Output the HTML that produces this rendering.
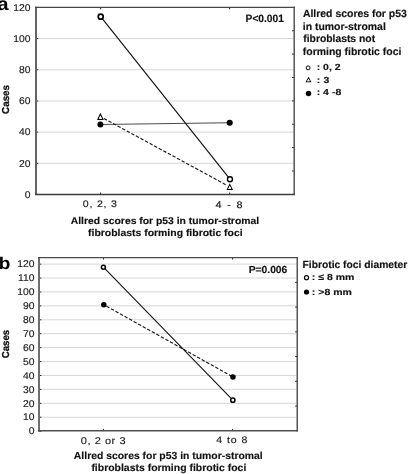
<!DOCTYPE html><html><head><meta charset="utf-8"><style>html,body{margin:0;padding:0;background:#fff;}svg{display:block;will-change:transform;}text{text-rendering:geometricPrecision;font-family:"Liberation Sans",sans-serif;}</style></head><body>
<svg width="408" height="474" viewBox="0 0 408 474">
<line x1="38.40" y1="163.32" x2="293.30" y2="163.32" stroke="#d6d6d6" stroke-width="1"/>
<line x1="38.40" y1="132.14" x2="293.30" y2="132.14" stroke="#d6d6d6" stroke-width="1"/>
<line x1="38.40" y1="100.96" x2="293.30" y2="100.96" stroke="#d6d6d6" stroke-width="1"/>
<line x1="38.40" y1="69.78" x2="293.30" y2="69.78" stroke="#d6d6d6" stroke-width="1"/>
<line x1="38.40" y1="38.60" x2="293.30" y2="38.60" stroke="#d6d6d6" stroke-width="1"/>
<line x1="36.00" y1="194.50" x2="38.30" y2="194.50" stroke="#222" stroke-width="1"/>
<line x1="36.00" y1="163.32" x2="38.30" y2="163.32" stroke="#222" stroke-width="1"/>
<line x1="36.00" y1="132.14" x2="38.30" y2="132.14" stroke="#222" stroke-width="1"/>
<line x1="36.00" y1="100.96" x2="38.30" y2="100.96" stroke="#222" stroke-width="1"/>
<line x1="36.00" y1="69.78" x2="38.30" y2="69.78" stroke="#222" stroke-width="1"/>
<line x1="36.00" y1="38.60" x2="38.30" y2="38.60" stroke="#222" stroke-width="1"/>
<line x1="36.00" y1="7.42" x2="38.30" y2="7.42" stroke="#222" stroke-width="1"/>
<line x1="294.20" y1="30.77" x2="292.10" y2="30.77" stroke="#222" stroke-width="1"/>
<line x1="294.20" y1="54.14" x2="292.10" y2="54.14" stroke="#222" stroke-width="1"/>
<line x1="294.20" y1="77.51" x2="292.10" y2="77.51" stroke="#222" stroke-width="1"/>
<line x1="294.20" y1="100.88" x2="292.10" y2="100.88" stroke="#222" stroke-width="1"/>
<line x1="294.20" y1="124.24" x2="292.10" y2="124.24" stroke="#222" stroke-width="1"/>
<line x1="294.20" y1="147.61" x2="292.10" y2="147.61" stroke="#222" stroke-width="1"/>
<line x1="294.20" y1="170.98" x2="292.10" y2="170.98" stroke="#222" stroke-width="1"/>
<line x1="100.60" y1="7.40" x2="100.60" y2="9.30" stroke="#222" stroke-width="1"/>
<line x1="100.60" y1="194.40" x2="100.60" y2="192.50" stroke="#222" stroke-width="1"/>
<line x1="229.60" y1="7.40" x2="229.60" y2="9.30" stroke="#222" stroke-width="1"/>
<line x1="229.60" y1="194.40" x2="229.60" y2="192.50" stroke="#222" stroke-width="1"/>
<line x1="36.00" y1="6.75" x2="36.00" y2="195.12" stroke="#646464" stroke-width="2.0"/>
<line x1="294.20" y1="6.75" x2="294.20" y2="195.12" stroke="#555" stroke-width="1.5"/>
<line x1="35.00" y1="7.40" x2="294.95" y2="7.40" stroke="#474747" stroke-width="1.3"/>
<line x1="35.00" y1="194.45" x2="294.95" y2="194.45" stroke="#3c3c3c" stroke-width="1.35"/>
<text transform="translate(30.55,197.80) scale(1.05,1)" font-size="9.85" text-anchor="end" fill="#1a1a1a" stroke="#1a1a1a" stroke-width="0.15">0</text>
<text transform="translate(30.55,166.62) scale(1.05,1)" font-size="9.85" text-anchor="end" fill="#1a1a1a" stroke="#1a1a1a" stroke-width="0.15">20</text>
<text transform="translate(30.55,135.44) scale(1.05,1)" font-size="9.85" text-anchor="end" fill="#1a1a1a" stroke="#1a1a1a" stroke-width="0.15">40</text>
<text transform="translate(30.55,104.26) scale(1.05,1)" font-size="9.85" text-anchor="end" fill="#1a1a1a" stroke="#1a1a1a" stroke-width="0.15">60</text>
<text transform="translate(30.55,73.08) scale(1.05,1)" font-size="9.85" text-anchor="end" fill="#1a1a1a" stroke="#1a1a1a" stroke-width="0.15">80</text>
<text transform="translate(30.55,41.90) scale(1.05,1)" font-size="9.85" text-anchor="end" fill="#1a1a1a" stroke="#1a1a1a" stroke-width="0.15">100</text>
<text transform="translate(30.55,10.72) scale(1.05,1)" font-size="9.85" text-anchor="end" fill="#1a1a1a" stroke="#1a1a1a" stroke-width="0.15">120</text>
<line x1="100.4" y1="124.45" x2="229.7" y2="122.7" stroke="#4a4a4a" stroke-width="1.1"/>
<line x1="103.9" y1="118.5" x2="226.2" y2="184.9" stroke="#1a1a1a" stroke-width="1.15" stroke-dasharray="3.4 1.8"/>
<line x1="100.7" y1="16.7" x2="229.95" y2="179.2" stroke="#111" stroke-width="1.15"/>
<circle cx="100.70" cy="16.70" r="2.50" fill="#fff" stroke="#000" stroke-width="1.7"/>
<circle cx="229.95" cy="179.20" r="2.50" fill="#fff" stroke="#000" stroke-width="1.35"/>
<path d="M100.40 112.70 L103.80 120.00 L97.00 120.00 Z M100.40 115.54 L98.88 118.80 L101.92 118.80 Z" fill="#000" fill-rule="evenodd"/>
<path d="M100.40 115.54 L98.88 118.80 L101.92 118.80 Z" fill="#fff"/>
<path d="M229.75 183.30 L233.00 190.00 L226.50 190.00 Z M229.75 185.82 L228.26 188.90 L231.24 188.90 Z" fill="#000" fill-rule="evenodd"/>
<path d="M229.75 185.82 L228.26 188.90 L231.24 188.90 Z" fill="#fff"/>
<circle cx="100.40" cy="124.45" r="2.95" fill="#000"/>
<circle cx="229.70" cy="122.70" r="3.05" fill="#000"/>
<circle cx="308.10" cy="67.90" r="1.95" fill="#fff" stroke="#000" stroke-width="1.0"/>
<path d="M308.50 76.80 L311.50 82.20 L305.50 82.20 Z M308.50 78.86 L307.20 81.20 L309.80 81.20 Z" fill="#000" fill-rule="evenodd"/>
<path d="M308.50 78.86 L307.20 81.20 L309.80 81.20 Z" fill="#fff"/>
<circle cx="308.50" cy="93.50" r="2.75" fill="#000"/>
<line x1="41.50" y1="417.23" x2="296.35" y2="417.23" stroke="#d6d6d6" stroke-width="1"/>
<line x1="41.50" y1="403.31" x2="296.35" y2="403.31" stroke="#d6d6d6" stroke-width="1"/>
<line x1="41.50" y1="389.39" x2="296.35" y2="389.39" stroke="#d6d6d6" stroke-width="1"/>
<line x1="41.50" y1="375.47" x2="296.35" y2="375.47" stroke="#d6d6d6" stroke-width="1"/>
<line x1="41.50" y1="361.55" x2="296.35" y2="361.55" stroke="#d6d6d6" stroke-width="1"/>
<line x1="41.50" y1="347.63" x2="296.35" y2="347.63" stroke="#d6d6d6" stroke-width="1"/>
<line x1="41.50" y1="333.71" x2="296.35" y2="333.71" stroke="#d6d6d6" stroke-width="1"/>
<line x1="41.50" y1="319.79" x2="296.35" y2="319.79" stroke="#d6d6d6" stroke-width="1"/>
<line x1="41.50" y1="305.87" x2="296.35" y2="305.87" stroke="#d6d6d6" stroke-width="1"/>
<line x1="41.50" y1="291.95" x2="296.35" y2="291.95" stroke="#d6d6d6" stroke-width="1"/>
<line x1="41.50" y1="278.03" x2="296.35" y2="278.03" stroke="#d6d6d6" stroke-width="1"/>
<line x1="41.50" y1="264.11" x2="296.35" y2="264.11" stroke="#d6d6d6" stroke-width="1"/>
<line x1="39.10" y1="431.15" x2="41.40" y2="431.15" stroke="#222" stroke-width="1"/>
<line x1="39.10" y1="417.23" x2="41.40" y2="417.23" stroke="#222" stroke-width="1"/>
<line x1="39.10" y1="403.31" x2="41.40" y2="403.31" stroke="#222" stroke-width="1"/>
<line x1="39.10" y1="389.39" x2="41.40" y2="389.39" stroke="#222" stroke-width="1"/>
<line x1="39.10" y1="375.47" x2="41.40" y2="375.47" stroke="#222" stroke-width="1"/>
<line x1="39.10" y1="361.55" x2="41.40" y2="361.55" stroke="#222" stroke-width="1"/>
<line x1="39.10" y1="347.63" x2="41.40" y2="347.63" stroke="#222" stroke-width="1"/>
<line x1="39.10" y1="333.71" x2="41.40" y2="333.71" stroke="#222" stroke-width="1"/>
<line x1="39.10" y1="319.79" x2="41.40" y2="319.79" stroke="#222" stroke-width="1"/>
<line x1="39.10" y1="305.87" x2="41.40" y2="305.87" stroke="#222" stroke-width="1"/>
<line x1="39.10" y1="291.95" x2="41.40" y2="291.95" stroke="#222" stroke-width="1"/>
<line x1="39.10" y1="278.03" x2="41.40" y2="278.03" stroke="#222" stroke-width="1"/>
<line x1="39.10" y1="264.11" x2="41.40" y2="264.11" stroke="#222" stroke-width="1"/>
<line x1="297.25" y1="282.34" x2="295.15" y2="282.34" stroke="#222" stroke-width="1"/>
<line x1="297.25" y1="307.09" x2="295.15" y2="307.09" stroke="#222" stroke-width="1"/>
<line x1="297.25" y1="331.83" x2="295.15" y2="331.83" stroke="#222" stroke-width="1"/>
<line x1="297.25" y1="356.57" x2="295.15" y2="356.57" stroke="#222" stroke-width="1"/>
<line x1="297.25" y1="381.31" x2="295.15" y2="381.31" stroke="#222" stroke-width="1"/>
<line x1="297.25" y1="406.06" x2="295.15" y2="406.06" stroke="#222" stroke-width="1"/>
<line x1="103.45" y1="257.60" x2="103.45" y2="259.50" stroke="#222" stroke-width="1"/>
<line x1="103.45" y1="430.80" x2="103.45" y2="428.90" stroke="#222" stroke-width="1"/>
<line x1="232.60" y1="257.60" x2="232.60" y2="259.50" stroke="#222" stroke-width="1"/>
<line x1="232.60" y1="430.80" x2="232.60" y2="428.90" stroke="#222" stroke-width="1"/>
<line x1="39.00" y1="256.93" x2="39.00" y2="431.60" stroke="#6e6e6e" stroke-width="2.0"/>
<line x1="297.25" y1="256.93" x2="297.25" y2="431.60" stroke="#555" stroke-width="1.5"/>
<line x1="38.00" y1="257.60" x2="298.00" y2="257.60" stroke="#4a4a4a" stroke-width="1.35"/>
<line x1="38.00" y1="430.80" x2="298.00" y2="430.80" stroke="#4e4e4e" stroke-width="1.6"/>
<text transform="translate(34.55,434.40) scale(1.05,1)" font-size="9.85" text-anchor="end" fill="#1a1a1a" stroke="#1a1a1a" stroke-width="0.15">0</text>
<text transform="translate(34.55,420.48) scale(1.05,1)" font-size="9.85" text-anchor="end" fill="#1a1a1a" stroke="#1a1a1a" stroke-width="0.15">10</text>
<text transform="translate(34.55,406.56) scale(1.05,1)" font-size="9.85" text-anchor="end" fill="#1a1a1a" stroke="#1a1a1a" stroke-width="0.15">20</text>
<text transform="translate(34.55,392.64) scale(1.05,1)" font-size="9.85" text-anchor="end" fill="#1a1a1a" stroke="#1a1a1a" stroke-width="0.15">30</text>
<text transform="translate(34.55,378.72) scale(1.05,1)" font-size="9.85" text-anchor="end" fill="#1a1a1a" stroke="#1a1a1a" stroke-width="0.15">40</text>
<text transform="translate(34.55,364.80) scale(1.05,1)" font-size="9.85" text-anchor="end" fill="#1a1a1a" stroke="#1a1a1a" stroke-width="0.15">50</text>
<text transform="translate(34.55,350.88) scale(1.05,1)" font-size="9.85" text-anchor="end" fill="#1a1a1a" stroke="#1a1a1a" stroke-width="0.15">60</text>
<text transform="translate(34.55,336.96) scale(1.05,1)" font-size="9.85" text-anchor="end" fill="#1a1a1a" stroke="#1a1a1a" stroke-width="0.15">70</text>
<text transform="translate(34.55,323.04) scale(1.05,1)" font-size="9.85" text-anchor="end" fill="#1a1a1a" stroke="#1a1a1a" stroke-width="0.15">80</text>
<text transform="translate(34.55,309.12) scale(1.05,1)" font-size="9.85" text-anchor="end" fill="#1a1a1a" stroke="#1a1a1a" stroke-width="0.15">90</text>
<text transform="translate(34.55,295.20) scale(1.05,1)" font-size="9.85" text-anchor="end" fill="#1a1a1a" stroke="#1a1a1a" stroke-width="0.15">100</text>
<text transform="translate(34.55,281.28) scale(1.05,1)" font-size="9.85" text-anchor="end" fill="#1a1a1a" stroke="#1a1a1a" stroke-width="0.15">110</text>
<text transform="translate(34.55,267.36) scale(1.05,1)" font-size="9.85" text-anchor="end" fill="#1a1a1a" stroke="#1a1a1a" stroke-width="0.15">120</text>
<line x1="103.8" y1="304.7" x2="232.95" y2="376.95" stroke="#1a1a1a" stroke-width="1.15" stroke-dasharray="3.4 1.8" stroke-dashoffset="-3"/>
<line x1="103.4" y1="267.15" x2="232.85" y2="400.15" stroke="#111" stroke-width="1.1"/>
<circle cx="103.40" cy="267.15" r="2.00" fill="#fff" stroke="#000" stroke-width="1.5"/>
<circle cx="232.85" cy="400.15" r="2.10" fill="#fff" stroke="#000" stroke-width="1.5"/>
<circle cx="103.80" cy="304.70" r="2.75" fill="#000"/>
<circle cx="232.95" cy="376.95" r="2.75" fill="#000"/>
<circle cx="306.50" cy="277.70" r="2.05" fill="#fff" stroke="#000" stroke-width="1.15"/>
<circle cx="306.50" cy="292.00" r="2.60" fill="#000"/>
<text transform="translate(302.89,17.30) scale(0.9960,1)" font-size="10.49" font-weight="bold" fill="#111" stroke="#111" stroke-width="0.15">Allred scores for p53</text>
<text transform="translate(302.74,29.90) scale(0.9976,1)" font-size="10.49" font-weight="bold" fill="#111" stroke="#111" stroke-width="0.15">in tumor-stromal</text>
<text transform="translate(303.24,42.30) scale(0.9867,1)" font-size="10.49" font-weight="bold" fill="#111" stroke="#111" stroke-width="0.15">fibroblasts not</text>
<text transform="translate(302.81,54.70) scale(0.9952,1)" font-size="10.49" font-weight="bold" fill="#111" stroke="#111" stroke-width="0.15">forming fibrotic foci</text>
<text transform="translate(316.64,70.40) scale(1.2000,1)" font-size="8.75" font-weight="bold" letter-spacing="0.011" fill="#111" stroke="#111" stroke-width="0.15">: 0, 2</text>
<text transform="translate(316.64,82.70) scale(1.2000,1)" font-size="8.75" font-weight="bold" letter-spacing="0.180" fill="#111" stroke="#111" stroke-width="0.15">: 3</text>
<text transform="translate(316.64,94.50) scale(1.2000,1)" font-size="8.75" font-weight="bold" letter-spacing="0.023" fill="#111" stroke="#111" stroke-width="0.15">: 4 -8</text>
<text transform="translate(245.59,21.50) scale(0.9548,1)" font-size="10.69" font-weight="bold" fill="#111" stroke="#111" stroke-width="0.15">P&lt;0.001</text>
<text transform="translate(70.74,223.50) scale(1.0597,1)" font-size="9.79" font-weight="bold" fill="#111" stroke="#111" stroke-width="0.15">Allred scores for p53 in tumor-stromal</text>
<text transform="translate(88.03,235.50) scale(1.0656,1)" font-size="9.79" font-weight="bold" fill="#111" stroke="#111" stroke-width="0.15">fibroblasts forming fibrotic foci</text>
<text transform="translate(82.72,207.30) scale(1.1200,1)" font-size="9.45" font-weight="normal" letter-spacing="0.724" fill="#1a1a1a" stroke="#1a1a1a" stroke-width="0.15">0, 2, 3</text>
<text transform="translate(215.38,207.50) scale(1.1200,1)" font-size="9.69" font-weight="normal" letter-spacing="1.211" fill="#1a1a1a" stroke="#1a1a1a" stroke-width="0.15">4 - 8</text>
<text transform="translate(-2.63,9.80) scale(1.1200,1)" font-size="18.16" font-weight="bold" fill="#000">a</text>
<text transform="translate(302.51,267.60) scale(0.9969,1)" font-size="10.34" font-weight="bold" fill="#111" stroke="#111" stroke-width="0.15">Fibrotic foci diameter</text>
<text transform="translate(311.83,280.20) scale(1.2000,1)" font-size="8.75" font-weight="bold" letter-spacing="0.012" fill="#111" stroke="#111" stroke-width="0.15">: ≤ 8 mm</text>
<text transform="translate(311.83,295.30) scale(1.2000,1)" font-size="8.75" font-weight="bold" letter-spacing="0.017" fill="#111" stroke="#111" stroke-width="0.15">: &gt;8 mm</text>
<text transform="translate(248.66,272.70) scale(1.0050,1)" font-size="10.26" font-weight="bold" fill="#111" stroke="#111" stroke-width="0.15">P=0.006</text>
<text transform="translate(73.86,458.50) scale(1.0202,1)" font-size="10.20" font-weight="bold" fill="#111" stroke="#111" stroke-width="0.15">Allred scores for p53 in tumor-stromal</text>
<text transform="translate(91.39,470.70) scale(1.0250,1)" font-size="10.20" font-weight="bold" fill="#111" stroke="#111" stroke-width="0.15">fibroblasts forming fibrotic foci</text>
<text transform="translate(80.76,443.50) scale(1.1200,1)" font-size="9.82" font-weight="normal" letter-spacing="0.498" fill="#1a1a1a" stroke="#1a1a1a" stroke-width="0.15">0, 2 or 3</text>
<text transform="translate(216.36,442.80) scale(1.1200,1)" font-size="9.45" font-weight="normal" letter-spacing="0.800" fill="#1a1a1a" stroke="#1a1a1a" stroke-width="0.15">4 to 8</text>
<text transform="translate(-1.37,269.00) scale(1.1200,1)" font-size="17.02" font-weight="bold" fill="#000">b</text>
<text transform="translate(9.04,99.45) rotate(-90) scale(0.975,1)" font-size="10.1" font-weight="bold" text-anchor="middle" fill="#111" stroke="#111" stroke-width="0.3">Cases</text>
<text transform="translate(9.04,344.05) rotate(-90) scale(0.952,1)" font-size="10.1" font-weight="bold" text-anchor="middle" fill="#111" stroke="#111" stroke-width="0.3">Cases</text>
</svg></body></html>
